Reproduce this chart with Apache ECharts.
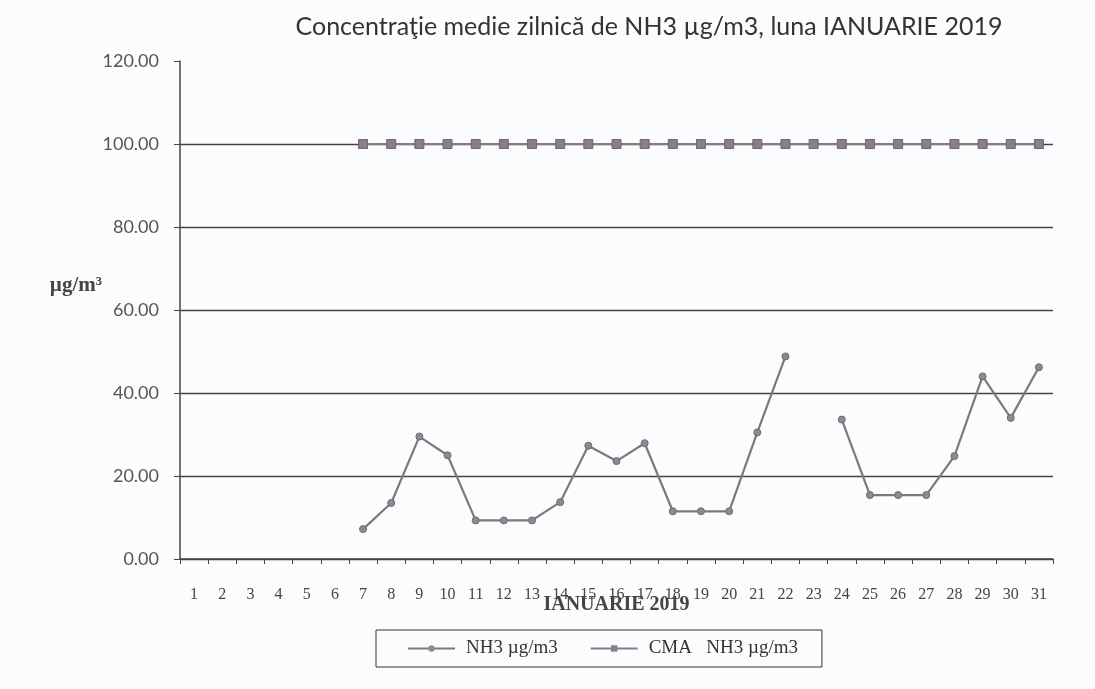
<!DOCTYPE html>
<html>
<head>
<meta charset="utf-8">
<script src="https://cdn.jsdelivr.net/npm/echarts@6/dist/echarts.min.js"></script>
<style>
html,body{margin:0;padding:0;background:#fbfcfd;}
#chart{width:1095px;height:689px;}
</style>
</head>
<body>
<div id="chart"></div>
<script>
const days = ['1','2','3','4','5','6','7','8','9','10','11','12','13','14','15','16','17','18','19','20','21','22','23','24','25','26','27','28','29','30','31'];
const nh3 = [null,null,null,null,null,null,7.2,13.5,29.5,25.0,9.3,9.3,9.3,13.7,27.3,23.6,27.9,11.5,11.5,11.5,30.5,48.8,null,33.6,15.4,15.4,15.4,24.8,44.0,34.0,46.2];
const cma = [null,null,null,null,null,null,100,100,100,100,100,100,100,100,100,100,100,100,100,100,100,100,100,100,100,100,100,100,100,100,100];
const yTicks = [0,20,40,60,80,100,120];
const seriesNames = ['NH3 µg/m3', 'CMA   NH3 µg/m3'];
const titleText = 'Concentraţie medie zilnică de NH3 µg/m3, luna IANUARIE 2019';

const chart = echarts.init(document.getElementById('chart'), null, {renderer:'canvas'});
const serif = '"Liberation Serif","DejaVu Serif",serif';
chart.setOption({
  backgroundColor: '#fbfcfd',
  animation: false,
  title: {
    text: titleText,
    left: 644, textAlign: 'center', top: 9,
    textStyle: {fontFamily: 'Lato', fontSize: 25, fontWeight: 'normal', color: '#333'}
  },
  grid: {left: 180, right: 42, top: 61, bottom: 130},
  legend: {
    data: [
      {name: seriesNames[0], itemStyle: {borderWidth: 0}},
      {name: seriesNames[1], itemStyle: {borderWidth: 0}}
    ],
    left: 376, top: 630,
    borderColor: '#333', borderWidth: 1,
    padding: [9, 24, 9, 31],
    itemGap: 32, itemWidth: 47, itemHeight: 8,
    textStyle: {fontFamily: serif, fontSize: 19, color: '#333', padding: [0, 0, 0, 6]}
  },
  xAxis: {
    type: 'category', data: days, boundaryGap: true,
    name: 'IANUARIE 2019', nameLocation: 'middle', nameGap: 36, nameMoveOverlap: false,
    nameTextStyle: {fontFamily: serif, fontSize: 20, fontWeight: 'bold', color: '#444'},
    axisLine: {lineStyle: {color: '#444', width: 1.5}},
    axisTick: {show: true, length: 5, inside: false, lineStyle: {color: '#444'}},
    axisLabel: {interval: 0, margin: 28, fontFamily: serif, fontSize: 16, color: '#444'}
  },
  yAxis: {
    type: 'value', min: 0, max: 120, interval: 20,
    name: 'µg/m³\n ', nameLocation: 'middle', nameRotate: 0, nameGap: 78, nameMoveOverlap: false,
    nameTextStyle: {fontFamily: serif, fontSize: 21, fontWeight: 'bold', color: '#444', lineHeight: 48},
    axisLine: {show: true, lineStyle: {color: '#444', width: 1.5}},
    axisTick: {show: true, length: 6, lineStyle: {color: '#444'}},
    axisLabel: {margin: 21, fontFamily: 'Lato', fontSize: 18, color: '#555', formatter: v => v.toFixed(2)},
    splitLine: {show: true, lineStyle: {color: ['#444','#444','#444','#444','#444','#444','rgba(0,0,0,0)'], width: 1.3}}
  },
  series: [
    {
      name: seriesNames[0], type: 'line', data: nh3, connectNulls: false,
      symbol: 'circle', symbolSize: 7,
      lineStyle: {color: '#7a7a7c', width: 2.2},
      itemStyle: {color: '#8d8a90', borderColor: '#6e6a72', borderWidth: 1},
      z: 3
    },
    {
      name: seriesNames[1], type: 'line', data: cma, connectNulls: false,
      symbol: 'rect', symbolSize: 9,
      lineStyle: {color: '#857c88', width: 2.2},
      itemStyle: {color: '#8a7d8e', borderColor: '#6f6572', borderWidth: 1},
      z: 2
    }
  ]
});
</script>
</body>
</html>
